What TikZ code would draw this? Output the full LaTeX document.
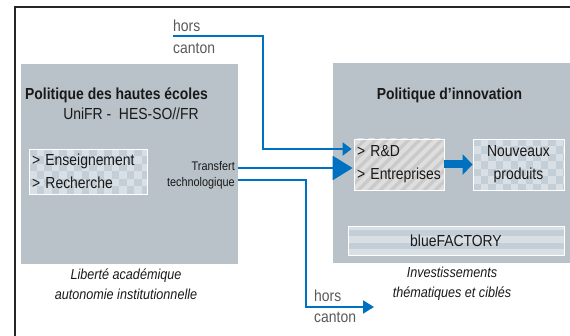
\documentclass[tikz,border=0pt]{standalone}
\usepackage{fontspec}
\setmainfont{Liberation Sans}[FakeStretch=0.87]
\usepackage{tikz}
\usetikzlibrary{arrows.meta, calc}

\definecolor{boxgray}{HTML}{B8C2C8}
\definecolor{flowblue}{HTML}{0070C0}
\definecolor{chklight}{HTML}{D8DFE5}
\definecolor{chkdark}{HTML}{C4CED7}
\definecolor{hatchlight}{HTML}{DEDEDE}
\definecolor{hatchdark}{HTML}{CACACA}
\definecolor{labelgray}{HTML}{595959}

\begin{document}
\begin{tikzpicture}[
  x=1pt, y=-1pt,
  every node/.style={inner sep=0pt, text=black!90},
  txt/.style={font=\fontsize{16}{23}\selectfont},
  heading/.style={font=\fontsize{16}{20}\selectfont\bfseries},
  small/.style={font=\fontsize{12.5}{16}\selectfont},
  caption/.style={font=\fontsize{14.5}{20}\selectfont\itshape, align=center},
  outside/.style={txt, text=labelgray, anchor=base west},
  policy/.style={fill=boxgray, minimum height=200pt},
  checkbox/.style={draw=white, line width=0.8pt, fill=chklight, path picture={
      \foreach \i in {0,...,16} \foreach \j in {0,...,7} {
        \pgfmathtruncatemacro\k{mod(\i+\j,2)}
        \ifnum\k=0 \fill[chkdark] ($(path picture bounding box.north west)+(\i*7.5,\j*7.5)$) rectangle +(7.5,7.5); \fi
      }}},
  hatchbox/.style={draw=white, line width=0.8pt, fill=hatchdark, path picture={
      \foreach \i in {0,...,14}
        \draw[hatchlight, line width=4pt] ($(path picture bounding box.north west)+(\i*11,-5)$) -- ++(-70,70);
      }},
  stripebox/.style={draw=white, line width=0.8pt, fill=chklight, path picture={
      \fill[chkdark] ($(path picture bounding box.north west)+(0,4)$) rectangle ($(path picture bounding box.north east)+(0,10)$);
      \fill[chkdark] ($(path picture bounding box.north west)+(0,17)$) rectangle ($(path picture bounding box.north east)+(0,23)$);
      }},
  flow/.style={draw=flowblue, line width=2pt}
  ]
\useasboundingbox (0,0) rectangle (570,336);

% outer frame
\draw[line width=2pt, black!85] (15,7) rectangle (590,350);

% Politique des hautes ecoles
\node[policy, minimum width=217pt] (hes) at (129.5,164) {};
\node[heading, anchor=base west] (hestitle) at (25,100) {Politique des hautes écoles};
\node[txt, anchor=base] (unifr) at (131,120) {UniFR -\ \ HES-SO//FR};
\node[txt, checkbox, minimum width=118pt, minimum height=45pt, text width=112pt, align=left] (ensrech) at (88,171.5) {> Enseignement\\> Recherche};
\node[small, align=right, anchor=east] (transfer) at (235,175) {Transfert\\technologique};
\node[caption] (hescap) at (126,284) {Liberté académique\\autonomie institutionnelle};

% Politique d'innovation
\node[policy, minimum width=238pt] (inno) at (452,163.5) {};
\node[heading, anchor=base] (innotitle) at (449.5,100) {Politique d’innovation};
\node[txt, hatchbox, minimum width=90pt, minimum height=51pt, text width=84pt, align=left] (rd) at (399,164.5) {> R\&D\\> Entreprises};
\node[txt, checkbox, minimum width=91pt, minimum height=51pt, align=center] (prod) at (518.5,164.5) {Nouveaux\\produits};
\node[txt, stripebox, minimum width=216pt, minimum height=29pt] (bf) at (456,240.5) {blueFACTORY};
\node[caption] (innocap) at (452,284) {Investissements\\thématiques et ciblés};

% hors canton
\node[outside] (hors1) at (173,32) {hors};
\node[outside] (canton1) at (173,54) {canton};
\node[outside] (hors2) at (314,302) {hors};
\node[outside] (canton2) at (314,323) {canton};
\coordinate (horsin) at (173,36);
\coordinate (horsout) at (374,307);

% flows
\draw[flow, -{Triangle[length=9pt,width=13pt]}] (horsin) -- (263,36) |- ([xshift=-2pt,yshift=15.5pt]rd.west);
\draw[flow, line width=2.5pt, -{Triangle[length=20pt,width=24pt]}] ([yshift=-4pt]hes.east) -- ([xshift=-1pt,yshift=-3.5pt]rd.west);
\draw[flow, -{Triangle[length=11pt,width=13pt]}] ([yshift=-16pt]hes.east) -- (306,180) |- (horsout);
\draw[flow, line width=8pt, -{Triangle[length=10pt,width=20pt]}] (rd.east) -- (prod.west);

\end{tikzpicture}
\end{document}
